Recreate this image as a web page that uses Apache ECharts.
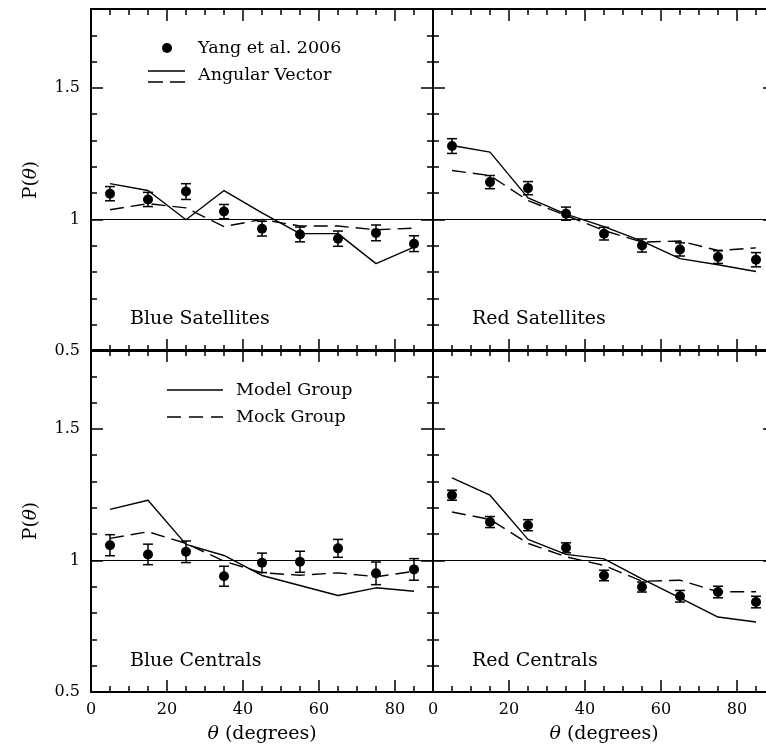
<!DOCTYPE html>
<html><head><meta charset="utf-8">
<script src="https://cdn.jsdelivr.net/npm/echarts@6/dist/echarts.min.js"></script>
<style>html,body{margin:0;padding:0;background:#fff}#c{width:766px;height:749px}</style>
</head><body><div id="c"></div>
<script>
// ---- data ----
const theta = [5, 15, 25, 35, 45, 55, 65, 75, 85];

const blueSatObs    = [1.098, 1.076, 1.106, 1.030, 0.965, 0.943, 0.927, 0.949, 0.908];
const blueSatErr    = [0.027, 0.027, 0.030, 0.027, 0.028, 0.028, 0.029, 0.030, 0.030];
const blueSatSolid  = [1.136, 1.110, 0.999, 1.110, 1.025, 0.946, 0.946, 0.832, 0.895];
const blueSatDashed = [1.037, 1.060, 1.044, 0.973, 1.000, 0.975, 0.975, 0.961, 0.967];

const redSatObs    = [1.279, 1.142, 1.119, 1.022, 0.946, 0.901, 0.886, 0.857, 0.847];
const redSatErr    = [0.028, 0.025, 0.025, 0.025, 0.024, 0.025, 0.025, 0.024, 0.027];
const redSatSolid  = [1.281, 1.256, 1.082, 1.020, 0.973, 0.918, 0.851, 0.828, 0.802];
const redSatDashed = [1.186, 1.167, 1.072, 1.015, 0.958, 0.914, 0.918, 0.882, 0.892];

const blueCenObs    = [1.058, 1.023, 1.033, 0.940, 0.991, 0.995, 1.046, 0.951, 0.966];
const blueCenErr    = [0.040, 0.039, 0.041, 0.038, 0.037, 0.040, 0.034, 0.043, 0.041];
const blueCenSolid  = [1.194, 1.229, 1.061, 1.019, 0.943, 0.905, 0.867, 0.896, 0.883];
const blueCenDashed = [1.084, 1.109, 1.065, 0.997, 0.953, 0.944, 0.953, 0.938, 0.959];

const redCenObs    = [1.248, 1.146, 1.134, 1.048, 0.943, 0.899, 0.864, 0.880, 0.842];
const redCenErr    = [0.019, 0.021, 0.021, 0.019, 0.020, 0.019, 0.022, 0.022, 0.022];
const redCenSolid  = [1.314, 1.248, 1.080, 1.023, 1.006, 0.930, 0.858, 0.785, 0.766];
const redCenDashed = [1.184, 1.156, 1.065, 1.014, 0.981, 0.921, 0.925, 0.881, 0.881];

const panelNames = ['Blue Satellites', 'Red Satellites', 'Blue Centrals', 'Red Centrals'];
const legendTop = ['Yang et al. 2006', 'Angular Vector'];
const legendBottom = ['Model Group', 'Mock Group'];
const xName = 'θ';
const xNameRest = ' (degrees)';
const yName = 'P(';

// ---- layout ----
const SERIF = 'DejaVu Serif';
const panelData = [
  {obs: blueSatObs, err: blueSatErr, solid: blueSatSolid, dashed: blueSatDashed},
  {obs: redSatObs,  err: redSatErr,  solid: redSatSolid,  dashed: redSatDashed},
  {obs: blueCenObs, err: blueCenErr, solid: blueCenSolid, dashed: blueCenDashed},
  {obs: redCenObs,  err: redCenErr,  solid: redCenSolid,  dashed: redCenDashed}
];
const layout = [
  {left: 91,  top: 9,   col: 0, row: 0},
  {left: 433, top: 9,   col: 1, row: 0},
  {left: 91,  top: 350, col: 0, row: 1},
  {left: 433, top: 350, col: 1, row: 1}
];
const GW = 342, GH = 342;

const grids = [], xAxes = [], yAxes = [], series = [];
const tickLabelStyle = {fontFamily: SERIF, fontSize: 16, color: '#000'};
const axisLineStyle = {color: '#000', width: 2};

layout.forEach((L, i) => {
  grids.push({left: L.left, top: L.top, width: GW, height: GH, containLabel: false,
              outerBoundsMode: 'none'});
  const showX = L.row === 1, showY = L.col === 0;
  ['bottom', 'top'].forEach(pos => {
    const isMainBottom = pos === 'bottom';
    xAxes.push({
      gridIndex: i, type: 'value', min: 0, max: 90, interval: 20, position: pos,
      axisLine: {show: true, onZero: false, lineStyle: axisLineStyle},
      axisTick: {show: true, inside: true, length: 12, lineStyle: {color: '#000', width: 1.5}},
      axisLabel: {show: isMainBottom && showX, margin: 10, showMaxLabel: false, ...tickLabelStyle},
      splitLine: {show: false},
      name: (isMainBottom && showX) ? '{i|' + xName + '}' + xNameRest : '',
      nameLocation: 'middle', nameGap: 33,
      nameTextStyle: {fontFamily: SERIF, fontSize: 19, color: '#000',
        rich: {i: {fontFamily: SERIF, fontStyle: 'italic', fontSize: 19, color: '#000'}}}
    });
    xAxes.push({
      gridIndex: i, type: 'value', min: 0, max: 90, interval: 5, position: pos,
      axisLine: {show: false, onZero: false},
      axisTick: {show: true, inside: true, length: 6, lineStyle: {color: '#000', width: 1.5}},
      axisLabel: {show: false}, splitLine: {show: false}
    });
  });
  ['left', 'right'].forEach(pos => {
    const isMainLeft = pos === 'left';
    yAxes.push({
      gridIndex: i, type: 'value', min: 0.5, max: 1.8, interval: 0.5, position: pos,
      axisLine: {show: true, onZero: false, lineStyle: axisLineStyle},
      axisTick: {show: true, inside: true, length: 12, lineStyle: {color: '#000', width: 1.5}},
      axisLabel: {show: isMainLeft && showY, margin: 11, showMaxLabel: false, ...tickLabelStyle},
      splitLine: {show: false},
      name: (isMainLeft && showY) ? yName + '{i|' + xName + '})' : '',
      nameLocation: 'middle', nameGap: 50, nameRotate: 90,
      nameTextStyle: {fontFamily: SERIF, fontSize: 18.5, color: '#000',
        rich: {i: {fontFamily: SERIF, fontStyle: 'italic', fontSize: 18.5, color: '#000'}}}
    });
    yAxes.push({
      gridIndex: i, type: 'value', min: 0.5, max: 1.8, interval: 0.1, position: pos,
      axisLine: {show: false, onZero: false},
      axisTick: {show: true, inside: true, length: 6, lineStyle: {color: '#000', width: 1.5}},
      axisLabel: {show: false}, splitLine: {show: false}
    });
  });

  const d = panelData[i];
  const xi = 4 * i, yi = 4 * i;
  series.push({
    type: 'line', xAxisIndex: xi, yAxisIndex: yi, showSymbol: false, symbol: 'none',
    data: theta.map((t, k) => [t, d.solid[k]]),
    lineStyle: {color: '#000', width: 1.4, type: 'solid'},
    markLine: {silent: true, symbol: 'none', label: {show: false},
      lineStyle: {color: '#000', width: 1, type: 'solid'}, data: [{yAxis: 1}]},
    z: 3
  });
  series.push({
    type: 'line', xAxisIndex: xi, yAxisIndex: yi, showSymbol: false, symbol: 'none',
    data: theta.map((t, k) => [t, d.dashed[k]]),
    lineStyle: {color: '#000', width: 1.4, type: [14, 7]},
    z: 3
  });
  series.push({
    type: 'custom', xAxisIndex: xi, yAxisIndex: yi,
    data: theta.map((t, k) => [t, d.obs[k] - d.err[k], d.obs[k] + d.err[k]]),
    encode: {x: 0, y: [1, 2]},
    renderItem: function (params, api) {
      const x = api.value(0);
      const pLo = api.coord([x, api.value(1)]);
      const pHi = api.coord([x, api.value(2)]);
      const hw = 5;
      const st = {stroke: '#000', lineWidth: 1.5};
      return {type: 'group', children: [
        {type: 'line', shape: {x1: pLo[0], y1: pLo[1], x2: pHi[0], y2: pHi[1]}, style: st},
        {type: 'line', shape: {x1: pLo[0] - hw, y1: pLo[1], x2: pLo[0] + hw, y2: pLo[1]}, style: st},
        {type: 'line', shape: {x1: pHi[0] - hw, y1: pHi[1], x2: pHi[0] + hw, y2: pHi[1]}, style: st}
      ]};
    },
    z: 4
  });
  series.push({
    type: 'scatter', xAxisIndex: xi, yAxisIndex: yi, symbol: 'circle', symbolSize: 10,
    data: theta.map((t, k) => [t, d.obs[k]]),
    itemStyle: {color: '#000', opacity: 1, borderWidth: 0}, z: 5
  });
});

// ---- text & legends ----
const txt = (x, y, text, size) => ({
  type: 'text', x: x, y: y, silent: true,
  style: {text: text, fontFamily: SERIF, fontSize: size, fill: '#000',
          textAlign: 'left', textVerticalAlign: 'middle'}
});
const seg = (x1, y1, x2, y2, dash) => ({
  type: 'line', silent: true, shape: {x1, y1, x2, y2},
  style: {stroke: '#000', lineWidth: 1.4, lineDash: dash || null}
});
const graphic = [
  txt(130, 319, panelNames[0], 19),
  txt(472, 319, panelNames[1], 19),
  txt(130, 661, panelNames[2], 19),
  txt(472, 661, panelNames[3], 19),
  {type: 'circle', silent: true, shape: {cx: 167, cy: 48, r: 5}, style: {fill: '#000'}},
  txt(198, 48, legendTop[0], 17.5),
  seg(148, 71, 185, 71),
  seg(148, 82, 185, 82, [15, 7]),
  txt(198, 75, legendTop[1], 17.5),
  seg(167, 390, 223, 390),
  txt(236, 390, legendBottom[0], 17.5),
  seg(167, 417, 223, 417, [14, 8]),
  txt(236, 417, legendBottom[1], 17.5)
];

const chart = echarts.init(document.getElementById('c'), null, {renderer: 'canvas'});
chart.setOption({
  animation: false,
  backgroundColor: '#fff',
  grid: grids, xAxis: xAxes, yAxis: yAxes, series: series, graphic: graphic
});
</script></body></html>
